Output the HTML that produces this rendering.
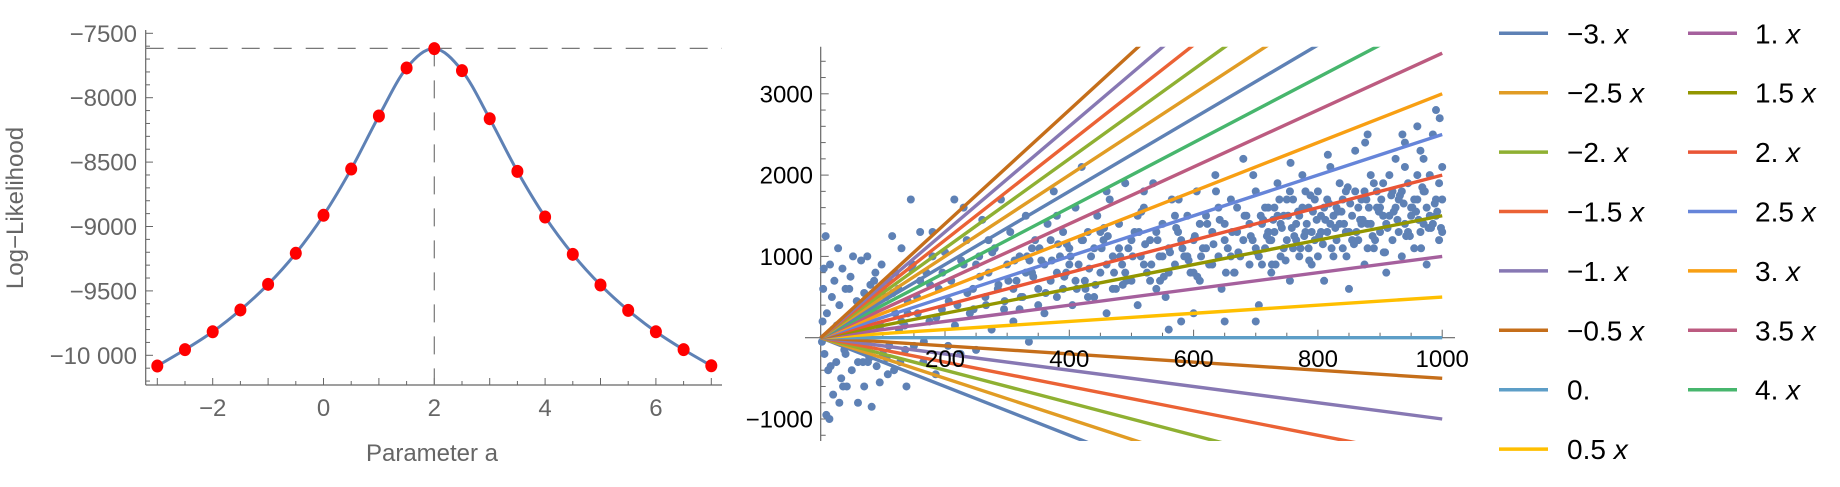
<!DOCTYPE html>
<html><head><meta charset="utf-8">
<style>
html,body{margin:0;padding:0;background:#fff;width:1840px;height:487px;overflow:hidden;}
svg{display:block;font-family:"Liberation Sans",sans-serif;}
.lg{font-size:28px;fill:#000;}
</style></head>
<body>
<svg id="root" width="1840" height="487" viewBox="0 0 1840 487" xmlns="http://www.w3.org/2000/svg">
  <g id="left"></g>
  <g id="right"></g>
  <g id="legend"></g>
</svg>
<script>
// ---------- Left chart data ----------
const paramA = [-3,-2.5,-2,-1.5,-1,-0.5,0,0.5,1,1.5,2,2.5,3,3.5,4,4.5,5,5.5,6,6.5,7];
const logLik = [-10083,-9956,-9817,-9648,-9449,-9208,-8913,-8554,-8142,-7769,-7619,-7790,-8163,-8572,-8926,-9216,-9454,-9651,-9817,-9956,-10081];
const leftXTicks = [-2,0,2,4,6];
const leftYTicks = [-7500,-8000,-8500,-9000,-9500,-10000];
const leftYLabels = ["−7500","−8000","−8500","−9000","−9500","−10 000"];
const maxLik = -7617;
const bestA = 2;

// ---------- Right chart data ----------
const slopes = [-3,-2.5,-2,-1.5,-1,-0.5,0,0.5,1,1.5,2,2.5,3,3.5,4,4.5,5,5.5,6,6.5,7];
const lineColors = ["#5E81B5","#E19C24","#8FB032","#EB6235","#8778B3","#C56E1A","#5D9EC7","#FFBF00","#A5609D","#929600","#E95536","#6685D9","#F89F13","#BC5B80","#47B66D","#5E81B5","#E19C24","#8FB032","#EB6235","#8778B3","#C56E1A"];
const legendLabels = ["−3.","−2.5","−2.","−1.5","−1.","−0.5","0.","0.5","1.","1.5","2.","2.5","3.","3.5","4."];
const rightXTicks = [200,400,600,800,1000];
const rightYTicks = [-1000,1000,2000,3000];
const rightYLabels = ["−1000","1000","2000","3000"];
const scatterX = [2,5,8,4,10,12,15,6,18,20,3,9,14,22,25,28,30,33,35,38,40,42,45,48,50,52,55,58,60,62,65,68,70,72,75,78,80,82,85,88,90,92,95,98,100,105,108,110,115,118,120,125,128,130,135,138,140,145,148,150,155,160,165,170,175,180,185,190,195,200,205,210,215,220,225,230,235,240,245,250,255,260,265,270,275,280,285,290,295,300,305,310,315,320,325,330,335,340,345,350,355,360,365,370,375,380,385,390,395,400,405,410,415,420,425,430,435,440,445,450,455,460,465,470,475,480,485,490,495,500,505,510,515,520,525,530,535,540,545,550,555,560,565,570,575,580,585,590,595,600,605,610,615,620,625,630,635,640,645,650,655,660,665,670,675,680,685,690,695,700,705,710,715,720,725,730,735,740,745,750,755,760,765,770,775,780,785,790,795,800,805,810,815,820,825,830,835,840,845,850,855,860,865,870,875,880,885,890,895,900,905,910,915,920,925,930,935,940,945,950,955,960,965,970,975,980,985,990,995,1000,
310,320,330,340,350,360,370,380,390,400,410,420,430,440,450,460,470,480,490,500,510,520,530,540,550,560,570,580,590,600,610,620,630,640,650,660,670,680,690,700,710,720,730,740,750,760,770,780,790,800,810,820,830,840,850,860,870,880,890,900,910,920,930,940,950,960,970,980,990,1000,705,715,725,735,745,755,765,775,785,795,805,815,825,835,845,855,865,875,885,895,905,915,925,935,945,955,965,975,985,995,960,990,940,970,1000,880,600,650,700,560,520,460,380,270,180,250,230,160,140,120,100,60,30,20,40,70,90,110,130,
302,312,322,332,342,352,362,372,382,392,402,412,422,432,442,452,462,472,482,492,502,512,522,532,542,552,562,572,582,592,602,612,622,632,642,652,662,672,682,692,702,712,722,732,742,752,762,772,782,792,802,812,822,832,842,852,862,872,882,892,902,912,922,932,942,952,962,972,982,992,
708,718,728,738,748,758,768,778,788,798,808,818,828,838,848,858,868,878,888,898,908,918,928,938,948,958,968,978,988,998,
16,26,36,46,56,66,76,86,96,106,116,126,136,146,156,166,176,186,196,206,216,226,236,246,256,266,276,286,296,
336,396,456,516,576,636,696,756,816,876,936,996,426,486,546,606,666,726,786,846,906,966];
const scatterY = [-50,850,1250,600,300,-400,900,-200,500,-700,200,-950,-1000,700,-300,1100,400,-500,850,-150,600,-600,200,750,-400,1000,-100,450,-800,300,950,-300,550,-50,1000,-250,650,-850,350,800,-350,150,-550,900,-200,500,-450,700,1250,-400,300,600,-300,1100,150,-600,450,1700,900,-100,500,1300,-300,800,200,1000,-450,600,350,1050,-100,700,1700,400,-200,900,1200,300,600,-150,1000,1450,500,800,100,1100,600,1700,350,900,1300,200,700,1000,500,1500,-50,800,1200,600,950,300,1400,700,1800,500,1000,1300,800,1100,400,1600,900,2100,700,1300,1000,500,1500,800,1200,300,1700,1000,600,1400,900,1900,1100,700,1300,400,1000,1600,800,1200,1900,600,1000,1400,500,1100,1700,900,1300,200,1000,1500,800,1200,1800,700,1100,1500,900,1300,2000,1000,600,1400,1100,1700,800,1300,1000,2200,1500,900,1200,1800,400,1400,1100,1600,800,1300,1900,1000,1500,1200,700,1700,1400,1000,2000,1300,1600,900,1200,1800,1500,700,1300,2100,1000,1600,1400,1100,1800,600,1500,2300,1200,1700,900,1400,2000,1100,1600,1300,1900,800,1500,1200,2200,1700,1000,1400,1900,1600,1100,2000,1300,1800,900,1500,2500,1700,1200,2100,
600,350,800,1100,400,900,1200,800,600,900,700,1200,500,1100,1300,900,600,1100,800,1200,1500,900,700,1300,1000,800,1500,1200,1000,800,1400,1100,900,1600,1200,1000,1600,1200,1400,1100,900,1300,1600,1400,1700,1100,1500,1800,1300,1000,1600,1400,1200,1700,1300,1800,1400,1100,1900,1600,1400,1800,1300,2100,1500,1700,1400,2000,1500,1700,1000,1600,1200,1500,1100,1800,1200,1600,1100,1700,1300,1700,1500,1900,1300,1200,1600,1800,1400,1800,1500,2000,1600,1800,1300,1700,2300,1600,1400,1900,2600,2800,2400,2200,1300,2500,300,200,200,100,1800,1800,1500,1200,1300,900,1600,700,300,800,600,-300,-800,100,-200,-600,500,-100,200,
700,950,500,1000,750,1100,550,950,1150,750,1000,600,1200,850,650,1100,1250,800,1000,700,1000,1300,1150,900,1200,750,1050,1350,1100,950,1250,1000,1400,1150,1450,800,1300,1050,1500,1250,1050,1450,1200,900,1350,1500,1250,1100,1400,1550,1250,1450,1100,1550,1400,1650,1300,1450,1600,1200,1700,1350,1550,1750,1250,1600,1450,1800,1350,1550,
1500,1250,1450,1700,950,1350,1550,1250,1750,1450,1150,1650,1350,1550,1850,1150,1450,1700,1250,1550,1050,1750,1450,1650,1250,1550,1850,1350,1650,1350,
-350,150,-600,600,-100,400,-300,700,150,-250,550,100,-150,850,300,-50,650,250,800,450,150,950,550,350,750,400,1050,650,450,
950,1150,1350,1550,1700,1800,2000,2150,2250,2400,2500,2700,600,650,700,750,800,900,950,1000,1050,1100];

const NS = "http://www.w3.org/2000/svg";
function mk(parent, tag, attrs){ const e=document.createElementNS(NS,tag); for(const k in attrs) e.setAttribute(k,attrs[k]); parent.appendChild(e); return e; }

// ---------- Left chart ----------
const L = document.getElementById('left');
const lx = a => 212.7 + (a + 2) * 55.4;
const ly = v => 33.3 + (-7500 - v) / 500 * 64.4;
const axisCol = "#666";
const lxAxis = mk(L,'line',{x1:145.7,y1:385,x2:722,y2:385,stroke:axisCol,'stroke-width':1.2});
 
const lyAxis = mk(L,'line',{x1:145.7,y1:30,x2:145.7,y2:385,stroke:axisCol,'stroke-width':1.2});
 
for(let a=-3; a<=7.001; a+=0.5){ const t=mk(L,'line',{x1:lx(a),x2:lx(a),y1:385,y2:Number.isInteger(a)?378:381,stroke:axisCol,'stroke-width':1});   }
for(let v=-10200; v<=-7500; v+=100){ const maj=(v%500===0); const t=mk(L,'line',{x1:145.7,x2:maj?153:150,y1:ly(v),y2:ly(v),stroke:axisCol,'stroke-width':1});   }
leftXTicks.forEach(a=>{ const t=mk(L,'text',{x:lx(a),y:416,'text-anchor':'middle','font-size':24,fill:axisCol}); t.textContent = a<0?('−'+(-a)):String(a);   });
leftYTicks.forEach((v,i)=>{ const t=mk(L,'text',{x:137,y:ly(v)+8.5,'text-anchor':'end','font-size':24,fill:axisCol}); t.textContent = leftYLabels[i];   });
const ytl = mk(L,'text',{x:0,y:0,'text-anchor':'middle','font-size':24,fill:axisCol,transform:'translate(23,208) rotate(-90)'});
ytl.textContent='Log−Likelihood';  
const xtl = mk(L,'text',{x:432,y:461,'text-anchor':'middle','font-size':24,fill:axisCol});
xtl.textContent='Parameter a';  
const hd = mk(L,'line',{x1:145.7,x2:722,y1:ly(maxLik),y2:ly(maxLik),stroke:'#777','stroke-width':1.2,'stroke-dasharray':'18,14'});
 
const vd = mk(L,'line',{x1:lx(bestA),x2:lx(bestA),y1:ly(maxLik),y2:385,stroke:'#777','stroke-width':1.2,'stroke-dasharray':'18,14'});
 
const P = paramA.map((a,i)=>[lx(a),ly(logLik[i])]);
let d = 'M'+P[0][0]+','+P[0][1];
for(let i=0;i<P.length-1;i++){ const p0=P[Math.max(0,i-1)],p1=P[i],p2=P[i+1],p3=P[Math.min(P.length-1,i+2)];
  d+=' C'+(p1[0]+(p2[0]-p0[0])/6)+','+(p1[1]+(p2[1]-p0[1])/6)+' '+(p2[0]-(p3[0]-p1[0])/6)+','+(p2[1]-(p3[1]-p1[1])/6)+' '+p2[0]+','+p2[1]; }
const curve = mk(L,'path',{d:d,fill:'none',stroke:'#5E81B5','stroke-width':3});
 
P.forEach(p=>{ const c=mk(L,'ellipse',{cx:p[0],cy:p[1],rx:6,ry:6.5,fill:'#FF0000'});   });

// ---------- Right chart ----------
const R = document.getElementById('right');
const rx = x => 820.7 + x * 0.6215;
const ry = y => 337.7 - y * 0.0813;
const defs = mk(R,'defs',{});
const cp = mk(defs,'clipPath',{id:'rclip'});
mk(cp,'rect',{x:815,y:46.7,width:640,height:394.3});
const rAxisX = mk(R,'line',{x1:805,x2:1455,y1:ry(0),y2:ry(0),stroke:axisCol,'stroke-width':1.2});
 
const rAxisY = mk(R,'line',{x1:820.7,x2:820.7,y1:46.7,y2:441,stroke:axisCol,'stroke-width':1.2});
 
for(let x=50;x<=1000;x+=50){ const t=mk(R,'line',{x1:rx(x),x2:rx(x),y1:ry(0),y2:ry(0)-(x%200===0?8:5),stroke:axisCol,'stroke-width':1});   }
for(let y=-1200;y<=3400;y+=200){ if(y===0) continue; const t=mk(R,'line',{x1:820.7,x2:820.7+(y%1000===0?8:5),y1:ry(y),y2:ry(y),stroke:axisCol,'stroke-width':1});   }
const sg = mk(R,'g',{'clip-path':'url(#rclip)'});
 
scatterX.forEach((x,i)=>{ const c=mk(sg,'circle',{cx:rx(x),cy:ry(scatterY[i]),r:4,fill:'#5E81B5'});   });
const lg = mk(R,'g',{'clip-path':'url(#rclip)'});
slopes.forEach((s,i)=>{ const l=mk(lg,'line',{x1:rx(0),y1:ry(0),x2:rx(1000),y2:ry(s*1000),stroke:lineColors[i],'stroke-width':3.4});   });
rightXTicks.forEach(x=>{ const t=mk(R,'text',{x:rx(x),y:367,'text-anchor':'middle','font-size':24,fill:'#000'}); t.textContent=String(x);   });
rightYTicks.forEach((y,i)=>{ const t=mk(R,'text',{x:813,y:ry(y)+8.5,'text-anchor':'end','font-size':24,fill:'#000'}); t.textContent=rightYLabels[i];   });

// ---------- Legend ----------
const G = document.getElementById('legend');
legendLabels.forEach((lab,i)=>{
  const col = i<8?0:1, row = i<8?i:i-8;
  const sx = col===0?1499:1688, tx = col===0?1567:1755, y = 33.3 + row*59.4;
  const e = mk(G,'g',{});
   
  mk(e,'line',{x1:sx,x2:sx+49,y1:y,y2:y,stroke:lineColors[i],'stroke-width':3.5});
  const t = mk(e,'text',{x:tx,y:y+10,class:'lg'});
  t.textContent = lab + (lab==='0.'?'':' ');
  if(lab!=='0.'){ const ts=document.createElementNS(NS,'tspan'); ts.setAttribute('font-style','italic'); ts.textContent='x'; t.appendChild(ts); }
});
</script>
</body></html>
